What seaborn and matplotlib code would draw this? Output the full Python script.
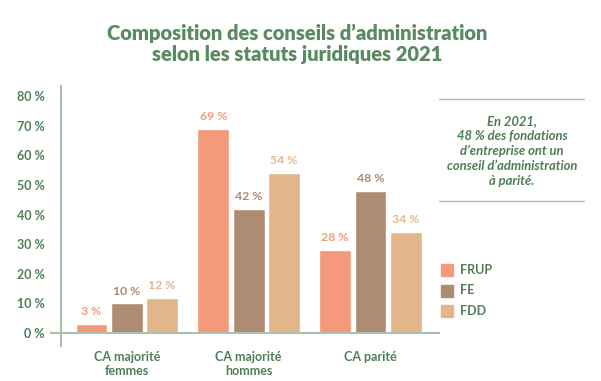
import pandas as pd
import seaborn as sns
import matplotlib.pyplot as plt

categories = ["CA majorité\nfemmes", "CA majorité\nhommes", "CA parité"]
statuts = ["FRUP", "FE", "FDD"]
frup = [3, 69, 28]
fe = [10, 42, 48]
fdd = [12, 54, 34]

colors = ["#f4997a", "#ad8c73", "#e2b68a"]
label_colors = ["#f29a7c", "#a88a74", "#e0b98f"]
green = "#4f7d57"
line_col = "#a9c0aa"

df = pd.DataFrame({
    "cat": categories * 3,
    "statut": [s for s in statuts for _ in categories],
    "val": frup + fe + fdd,
})

sns.set_style("white")
plt.rcParams["font.family"] = ["Lato", "DejaVu Sans"]

fig = plt.figure(figsize=(6.01, 3.81), dpi=100)
ax = fig.add_axes([0.0832, 0.0892, 0.7321 - 0.0832, 0.7769 - 0.0892])

sns.barplot(data=df, x="cat", y="val", hue="statut", hue_order=statuts,
            palette=colors, width=0.87, gap=0.1, saturation=1, ax=ax,
            legend=False)

for cont, c in zip(ax.containers, label_colors):
    ax.bar_label(cont, labels=[f"{v:g} %" for v in cont.datavalues],
                 padding=5, color=c, fontsize=8.8, fontweight="bold")

ax.set_xlim(-0.63, 2.57)
ax.set_ylim(-4.7, 83.7)
for s in ax.spines.values():
    s.set_visible(False)
ax.axhline(0, color=line_col, lw=1.5, zorder=5)
ax.axvline(-0.54, color=line_col, lw=1.5)

ax.set_yticks(range(0, 81, 10))
ax.set_yticklabels([f"{v} %" for v in range(0, 81, 10)])
ax.tick_params(axis="y", length=0, pad=4, labelcolor=green, labelsize=9)
ax.tick_params(axis="x", length=0, pad=3, labelcolor=green, labelsize=9)
for t in ax.get_yticklabels() + ax.get_xticklabels():
    t.set_fontweight("bold")
ax.set_xlabel("")
ax.set_ylabel("")

fig.text(0.495, 1 - 44 / 381, "Composition des conseils d’administration\nselon les statuts juridiques 2021",
         ha="center", va="center", fontsize=14.5, fontweight="heavy", color="#5a8a60",
         linespacing=1.15)

# annotation box
fig.add_artist(plt.Line2D([439 / 601, 584 / 601], [1 - 99 / 381] * 2, color="#9fcc9f", lw=1))
fig.add_artist(plt.Line2D([439 / 601, 584 / 601], [1 - 201 / 381] * 2, color="#9fcc9f", lw=1))
fig.text(512 / 601, 1 - 151 / 381,
         "En 2021,\n48 % des fondations\nd’entreprise ont un\nconseil d’administration\nà parité.",
         ha="center", va="center", fontsize=9.4, style="italic", fontweight="bold",
         color=green, linespacing=1.28)

# legend
for i, (s, c) in enumerate(zip(statuts, colors)):
    y = 1 - (270 + i * 20.5) / 381
    fig.patches.append(plt.Rectangle((441 / 601, y - 6 / 381), 12 / 601, 12 / 381,
                                     transform=fig.transFigure, color=c, figure=fig))
    fig.text(460 / 601, y, s, ha="left", va="center", fontsize=9,
             fontweight="bold", color=green)

fig.savefig("out.png", dpi=100)
